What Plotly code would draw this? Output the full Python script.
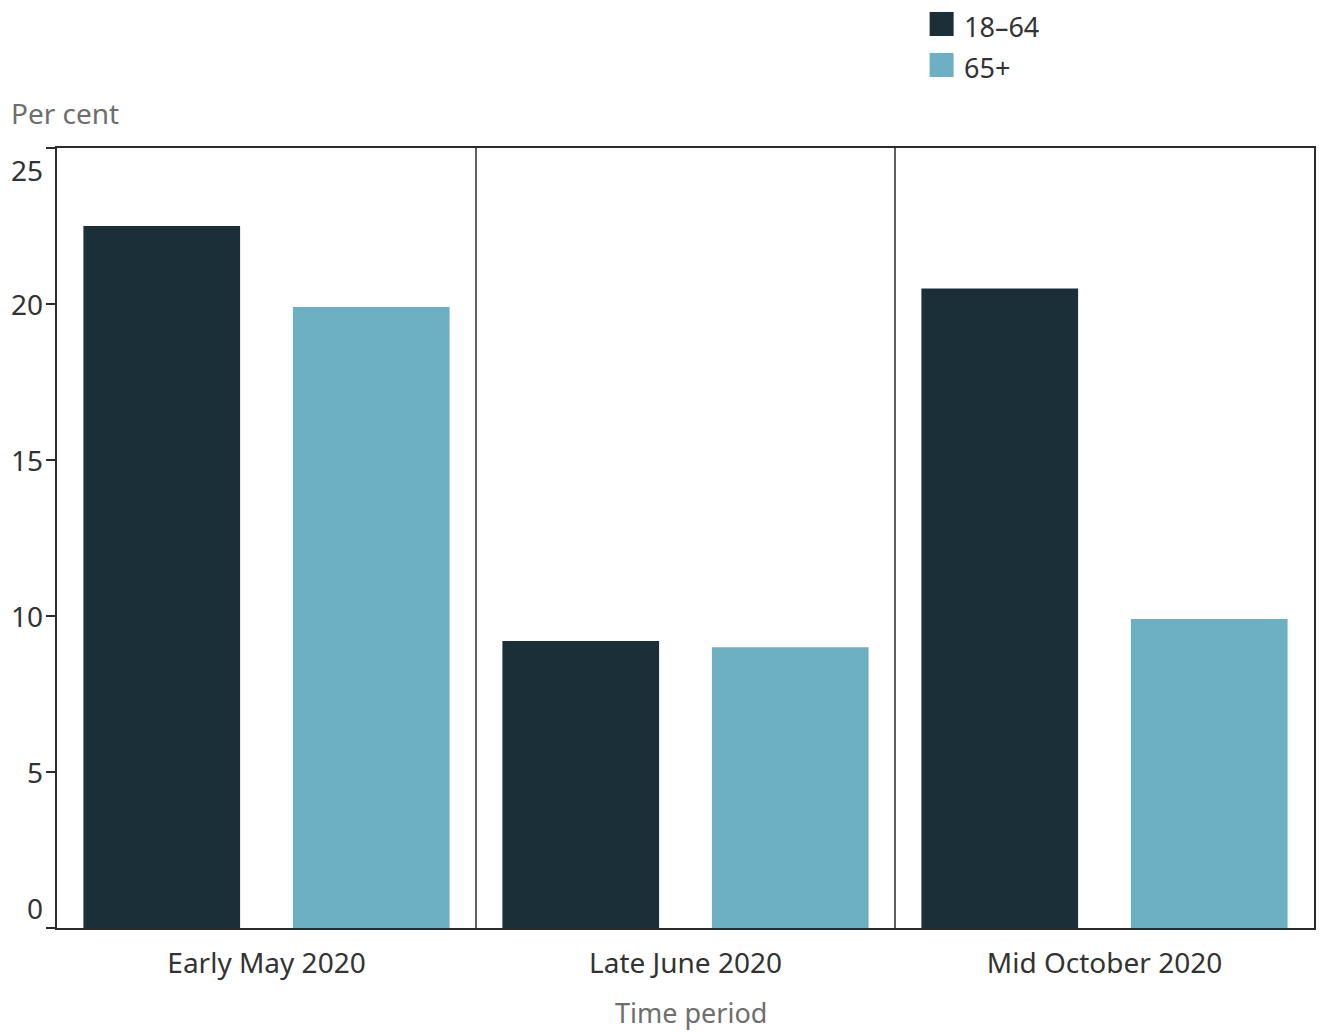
import plotly.graph_objects as go

periods = ["Early May 2020", "Late June 2020", "Mid October 2020"]
age_groups = ["18–64", "65+"]
values_18_64 = [22.5, 9.2, 20.5]
values_65_plus = [19.9, 9.0, 9.9]
y_ticks = [0, 5, 10, 15, 20, 25]
y_tick_labels = ["0", "5", "10", "15", "20", "25"]

colors = ["#1b2f38", "#6dafc3"]
font_family = "Noto Sans"
fsize = 28
text_dark = "#333333"
text_grey = "#6e6e6e"
line_col = "#2b2b2b"

fig = go.Figure()
for name, vals, col in zip(age_groups, [values_18_64, values_65_plus], colors):
    fig.add_trace(go.Bar(x=periods, y=vals, name=name, marker_color=col, marker_line_width=0, showlegend=False))

# page body has an 8px margin, so the figure is sized/offset for that
fig.update_layout(
    width=1316, height=1024,
    margin=dict(l=49, r=8, t=140, b=104),
    plot_bgcolor="white", paper_bgcolor="white",
    barmode="group", bargap=0.0, bargroupgap=0.252,
    font=dict(family=font_family, size=fsize, color=text_dark),
)
fig.update_xaxes(
    showline=True, mirror=True, linecolor=line_col, linewidth=2,
    ticks="", tickfont=dict(size=fsize, color=text_dark), ticklabelstandoff=9,
    showgrid=False,
)
fig.update_yaxes(
    range=[0, 25], tickvals=y_ticks, showticklabels=False,
    showline=True, mirror=True, linecolor=line_col, linewidth=2,
    ticks="outside", ticklen=9, tickcolor=line_col, tickwidth=2,
    showgrid=False, zeroline=False,
)

# panel dividers between periods
for xpos in [0.5, 1.5]:
    fig.add_shape(type="line", x0=xpos, x1=xpos, y0=0, y1=1, xref="x", yref="paper",
                  line=dict(color=line_col, width=1.5))

# y tick labels (ends nudged inside the frame)
for val, lab in zip(y_ticks, y_tick_labels):
    shift = 20 if val == y_ticks[0] else (-22 if val == y_ticks[-1] else 0)
    fig.add_annotation(x=0, y=val, xref="paper", yref="y", text=lab, showarrow=False,
                       xanchor="right", xshift=-12, yshift=shift,
                       font=dict(size=fsize, color=text_dark))

# axis titles
fig.add_annotation(x=-0.0381, y=1.0449, xref="paper", yref="paper", text="Per cent",
                   showarrow=False, xanchor="left", yanchor="middle",
                   font=dict(size=fsize, color=text_grey))
fig.add_annotation(x=0.5044, y=-0.108, xref="paper", yref="paper", text="Time period",
                   showarrow=False, xanchor="center", yanchor="middle", borderpad=0,
                   font=dict(size=27, color=text_grey))

# legend
legend_y = [1.159, 1.1064]
for name, col, ly in zip(age_groups, colors, legend_y):
    fig.add_shape(type="rect", xref="paper", yref="paper",
                  x0=0.6942, x1=0.7133, y0=ly - 0.0154, y1=ly + 0.0154,
                  fillcolor=col, line=dict(width=0))
    fig.add_annotation(x=0.7205, y=ly - 0.003, xref="paper", yref="paper", text=name,
                       showarrow=False, xanchor="left", yanchor="middle", borderpad=0,
                       font=dict(size=27, color=text_dark))

fig.write_html("out.html")
